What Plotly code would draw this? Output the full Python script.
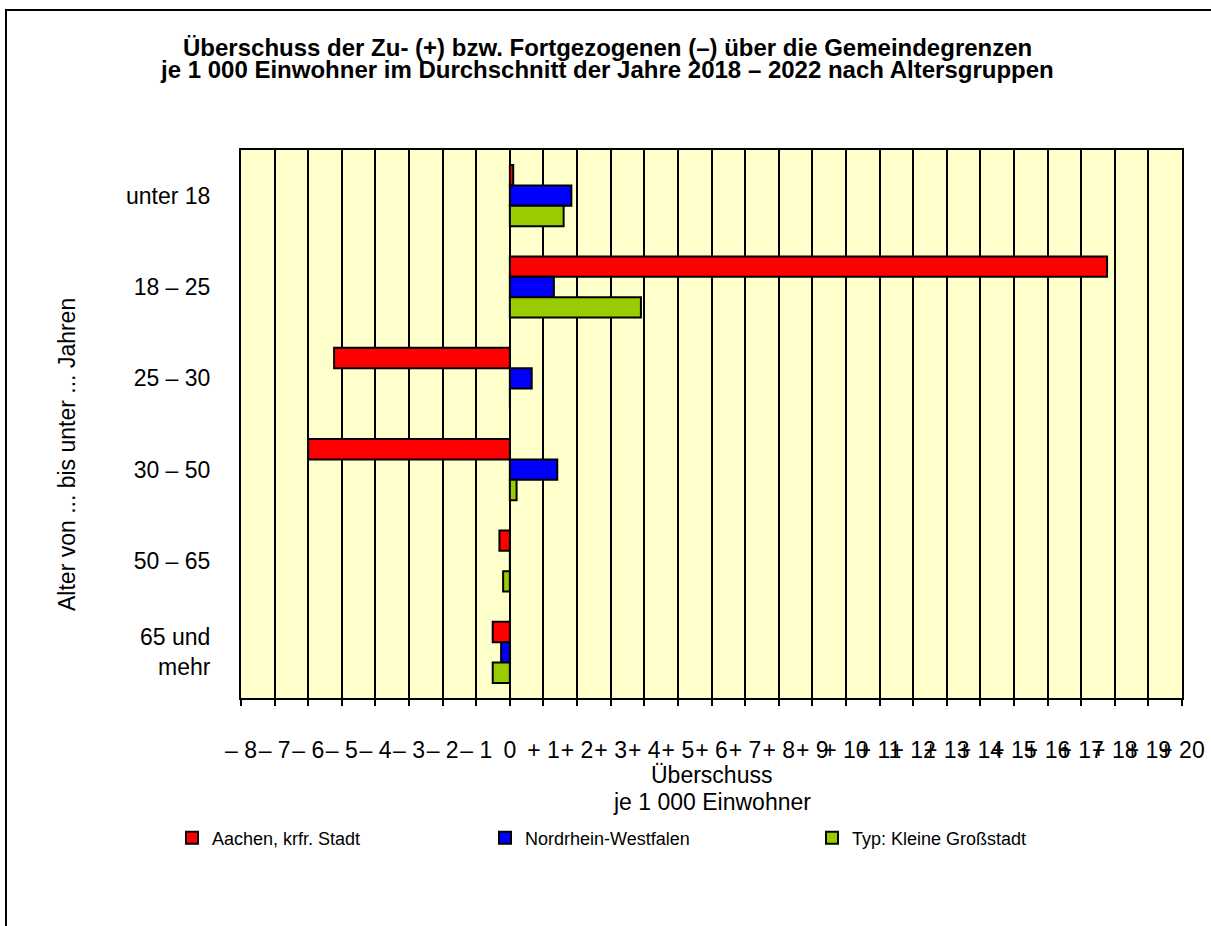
import plotly.graph_objects as go

categories = ["unter 18", "18 – 25", "25 – 30", "30 – 50", "50 – 65", "65 und<br>mehr"]
aachen = [0.1, 17.77, -5.23, -6.0, -0.31, -0.51]
nrw = [1.83, 1.31, 0.65, 1.41, 0.0, -0.26]
typ = [1.6, 3.9, 0.0, 0.2, -0.2, -0.51]

series_names = ["Aachen, krfr. Stadt", "Nordrhein-Westfalen", "Typ: Kleine Großstadt"]
series_colors = ["#FF0000", "#0000FF", "#99CC00"]

tick_vals = list(range(-8, 21))
tick_text = [("– %d" % -v) if v < 0 else ("0" if v == 0 else "+ %d" % v) for v in tick_vals]

title_lines = ["Überschuss der Zu- (+) bzw. Fortgezogenen (–) über die Gemeindegrenzen",
               "je 1 000 Einwohner im Durchschnitt der Jahre 2018 – 2022 nach Altersgruppen"]
x_title_lines = ["Überschuss", "je 1 000 Einwohner"]
y_title = "Alter von ... bis unter ... Jahren"

W, H = 1211, 926
L, R, T, B = 241, 1182, 150, 698
pw, ph = R - L, B - T

def px_x(x):
    return (x - L) / pw

def px_y(y):
    return (B - y) / ph

fig = go.Figure()
legend_ids = ["legend", "legend2", "legend3"]
for name, vals, col, lg in zip(series_names, [aachen, nrw, typ], series_colors, legend_ids):
    fig.add_trace(go.Bar(
        y=categories, x=vals, name=name, orientation="h",
        marker=dict(color=col, line=dict(color="black", width=2)),
        legend=lg,
    ))

font_family = "Liberation Sans, Arial, sans-serif"
legend_text_x = [212, 525, 852]
leg_common = dict(orientation="h", yanchor="middle", y=px_y(838), xanchor="left",
                  font=dict(family=font_family, size=18, color="black"),
                  bgcolor="rgba(0,0,0,0)", borderwidth=0)

layout_legends = {}
for lg, tx in zip(legend_ids, legend_text_x):
    layout_legends[lg] = dict(x=px_x(tx - 40), **leg_common)

annotations = [
    dict(text="<b>%s</b>" % title_lines[0], x=px_x(607), y=px_y(47)),
    dict(text="<b>%s</b>" % title_lines[1], x=px_x(607), y=px_y(70)),
    dict(text=x_title_lines[0], x=0.5, y=px_y(775)),
    dict(text=x_title_lines[1], x=0.5, y=px_y(802)),
    dict(text=y_title, textangle=-90, x=px_x(67), y=px_y(455)),
]
for i, a in enumerate(annotations):
    a.update(xref="paper", yref="paper", showarrow=False,
             xanchor="center", yanchor="middle",
             font=dict(family=font_family, size=24 if i < 2 else 23, color="black"))

fig.update_layout(
    width=W, height=H,
    margin=dict(l=L, r=W - R, t=T, b=H - B, autoexpand=False),
    paper_bgcolor="white",
    plot_bgcolor="#FFFFCC",
    barmode="group",
    bargap=0.33,
    bargroupgap=0,
    font=dict(family=font_family, size=23, color="black"),
    xaxis=dict(
        range=[-8, 20], tickvals=tick_vals, ticktext=tick_text, tickangle=0,
        showgrid=True, gridcolor="black", gridwidth=2,
        zeroline=True, zerolinecolor="black", zerolinewidth=2,
        showline=True, linecolor="black", linewidth=2, mirror=True,
        ticks="outside", ticklen=6, tickcolor="black", tickwidth=2,
        ticklabelstandoff=24,
        tickfont=dict(size=23),
    ),
    yaxis=dict(
        autorange="reversed",
        showgrid=False,
        showline=True, linecolor="black", linewidth=2, mirror=True,
        ticks="", ticklabelstandoff=24,
        tickfont=dict(size=23),
    ),
    showlegend=True,
    **layout_legends,
    annotations=annotations,
    shapes=[
        dict(type="rect", xref="paper", yref="paper",
             x0=px_x(6), x1=px_x(W + 20), y0=px_y(H + 20), y1=px_y(10),
             line=dict(color="black", width=2), fillcolor="rgba(0,0,0,0)", layer="above"),
    ],
)

fig.write_html("out.html", config={"displayModeBar": False},
               post_script="document.body.style.margin='0';document.body.style.overflow='hidden';")
